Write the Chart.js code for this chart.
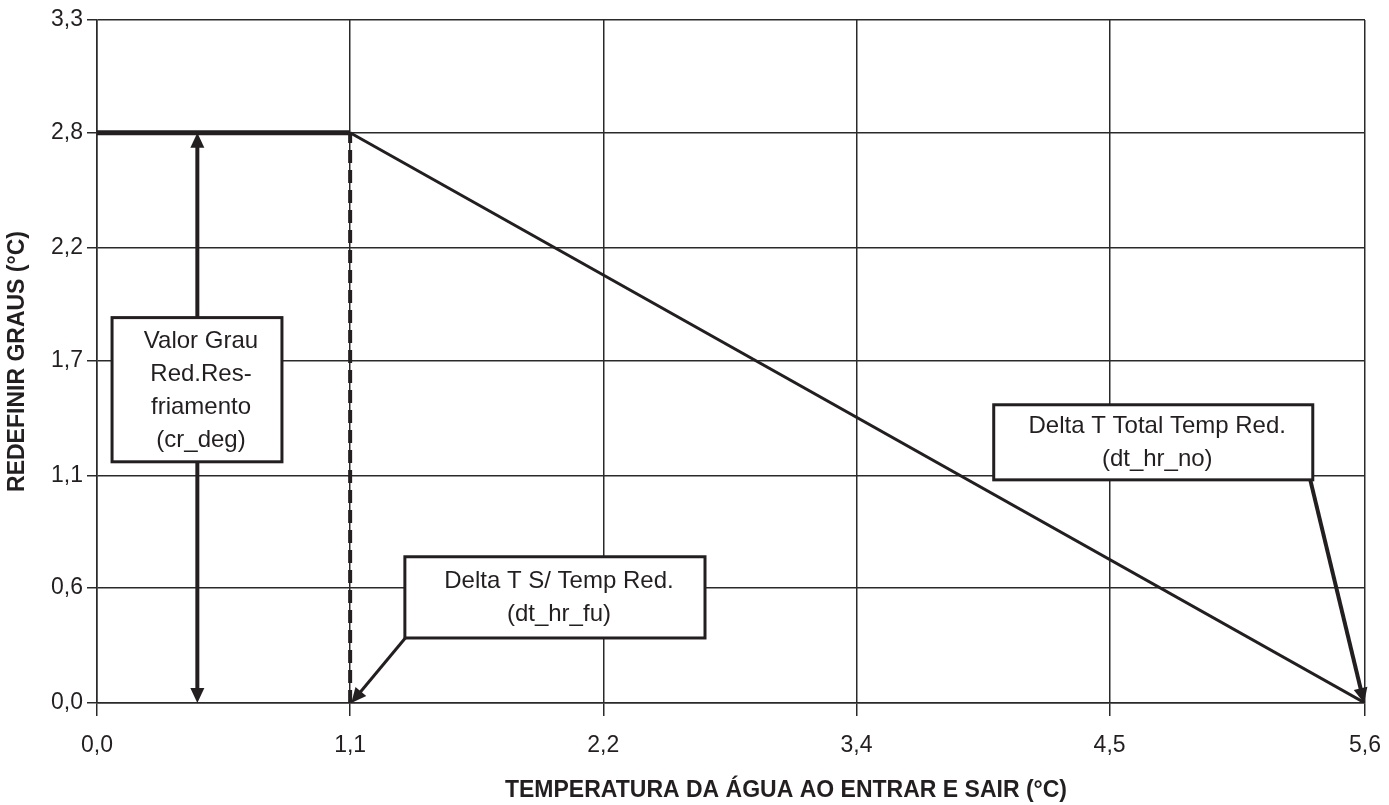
<!DOCTYPE html>
<html>
<head>
<meta charset="utf-8">
<script src="https://cdn.jsdelivr.net/npm/chart.js@4/dist/chart.umd.min.js"></script>
<style>
  html, body { margin: 0; padding: 0; background: #fff; }
  #wrap { width: 1389px; height: 805px; }
</style>
</head>
<body>
<div id="wrap"><canvas id="graf"></canvas></div>
<script>
// valores (°C)
const curvaX = [0.0, 1.11, 5.56];
const curvaY = [2.78, 2.78, 0.0];
const tracoX = [1.11, 1.11];
const tracoY = [0.0, 2.78];

const xTicks = [0, 1.11, 2.22, 3.33, 4.44, 5.56];
const xLabels = ['0,0', '1,1', '2,2', '3,4', '4,5', '5,6'];
const yTicks = [0, 0.56, 1.11, 1.67, 2.22, 2.78, 3.33];
const yLabels = ['0,0', '0,6', '1,1', '1,7', '2,2', '2,8', '3,3'];

const tituloX = 'TEMPERATURA DA ÁGUA AO ENTRAR E SAIR (°C)';
const tituloY = 'REDEFINIR GRAUS (°C)';

const preto = '#231f20';
const fonte = '"Liberation Sans", Arial, Helvetica, sans-serif';

// caixas de texto e setas (em unidades dos eixos)
const caixas = [
    { linhas: ['Valor Grau', 'Red.Res-', 'friamento', '(cr_deg)'], x0: 0.066, x1: 0.811, y0: 1.879, y1: 1.176 },
    { linhas: ['Delta T S/ Temp Red.', '(dt_hr_fu)'], x0: 1.35, x1: 2.666, y0: 0.713, y1: 0.317 },
    { linhas: ['Delta T Total Temp Red.', '(dt_hr_no)'], x0: 3.932, x1: 5.331, y0: 1.454, y1: 1.088 }
];
const setas = [
    { de: [0.44, 2.78], ate: [0.44, 0.0], duas: true, larg: 4 },
    { de: [1.352, 0.317], ate: [1.115, 0.0], duas: false, larg: 3 },
    { de: [5.32, 1.088], ate: [5.556, 0.0], duas: false, larg: 4 }
];

function ponta(ctx, x1, y1, x2, y2) {
    var ang = Math.atan2(y2 - y1, x2 - x1);
    var L = 15, W = 7;
    ctx.beginPath();
    ctx.moveTo(x2, y2);
    ctx.lineTo(x2 - L * Math.cos(ang) + W * Math.sin(ang), y2 - L * Math.sin(ang) - W * Math.cos(ang));
    ctx.lineTo(x2 - L * Math.cos(ang) - W * Math.sin(ang), y2 - L * Math.sin(ang) + W * Math.cos(ang));
    ctx.closePath();
    ctx.fill();
}

const anotacoes = {
    id: 'anotacoes',
    afterDatasetsDraw(chart) {
        const ctx = chart.ctx;
        const sx = chart.scales.x, sy = chart.scales.y;
        ctx.save();
        ctx.strokeStyle = preto;
        ctx.fillStyle = preto;
        ctx.lineCap = 'butt';

        setas.forEach(function (s) {
            var x1 = sx.getPixelForValue(s.de[0]), y1 = sy.getPixelForValue(s.de[1]);
            var x2 = sx.getPixelForValue(s.ate[0]), y2 = sy.getPixelForValue(s.ate[1]);
            var ang = Math.atan2(y2 - y1, x2 - x1);
            var a = s.duas ? 12 : 0;
            ctx.lineWidth = s.larg;
            ctx.beginPath();
            ctx.moveTo(x1 + a * Math.cos(ang), y1 + a * Math.sin(ang));
            ctx.lineTo(x2 - 12 * Math.cos(ang), y2 - 12 * Math.sin(ang));
            ctx.stroke();
            ponta(ctx, x1, y1, x2, y2);
            if (s.duas) ponta(ctx, x2, y2, x1, y1);
        });

        ctx.font = '24px ' + fonte;
        ctx.textAlign = 'center';
        ctx.textBaseline = 'middle';
        caixas.forEach(function (c) {
            var l = sx.getPixelForValue(c.x0), r = sx.getPixelForValue(c.x1);
            var t = sy.getPixelForValue(c.y0), b = sy.getPixelForValue(c.y1);
            ctx.fillStyle = '#fff';
            ctx.fillRect(l, t, r - l, b - t);
            ctx.lineWidth = 3;
            ctx.strokeStyle = preto;
            ctx.strokeRect(l, t, r - l, b - t);
            ctx.fillStyle = preto;
            var n = c.linhas.length, lh = 33;
            var cy = (t + b) / 2 - (n - 1) * lh / 2 + 1;
            c.linhas.forEach(function (txt, i) {
                ctx.fillText(txt, (l + r) / 2 + 4, cy + i * lh);
            });
        });

        // titulo do eixo x (um pouco deslocado para a direita, como no original)
        ctx.font = 'bold 23px ' + fonte;
        ctx.fillText(tituloX, (chart.chartArea.left + chart.chartArea.right) / 2 + 55, 791);
        ctx.restore();
    }
};

document.addEventListener('DOMContentLoaded', function () {
    var ctx = document.getElementById('graf').getContext('2d');

    var grafico = new Chart(ctx, {
        type: 'line',
        data: {
            datasets: [
                {
                    label: 'curva',
                    data: curvaX.map(function (x, i) { return { x: x, y: curvaY[i] }; }),
                    borderColor: preto,
                    borderWidth: 3,
                    pointRadius: 0,
                    tension: 0,
                    segment: {
                        borderWidth: function (c) { return c.p0DataIndex === 0 ? 5 : 3; }
                    }
                },
                {
                    label: 'traco',
                    data: tracoX.map(function (x, i) { return { x: x, y: tracoY[i] }; }),
                    borderColor: preto,
                    borderWidth: 4,
                    borderDash: [13, 7],
                    pointRadius: 0
                }
            ]
        },
        options: {
            responsive: true,
            maintainAspectRatio: false,
            animation: false,
            layout: { padding: { top: 20, right: 0, left: 0, bottom: 0 } },
            plugins: {
                legend: { display: false },
                tooltip: { enabled: false }
            },
            scales: {
                x: {
                    type: 'linear',
                    min: 0,
                    max: 5.56,
                    afterBuildTicks: function (s) { s.ticks = xTicks.map(function (v) { return { value: v }; }); },
                    afterFit: function (s) { s.height = 102; s.paddingRight = 24; s.paddingLeft = 0; },
                    ticks: {
                        autoSkip: false,
                        maxRotation: 0,
                        padding: 16,
                        color: preto,
                        font: { family: fonte, size: 23 },
                        callback: function (v, i) { return xLabels[i]; }
                    },
                    grid: { color: '#2a2a2a', lineWidth: 1.5, tickLength: 13 },
                    border: { color: '#2a2a2a', width: 1.5 },
                    title: { display: false }
                },
                y: {
                    type: 'linear',
                    min: 0,
                    max: 3.33,
                    afterBuildTicks: function (s) { s.ticks = yTicks.map(function (v) { return { value: v }; }); },
                    afterFit: function (s) { s.width = 97; },
                    ticks: {
                        autoSkip: false,
                        padding: 4,
                        color: preto,
                        font: { family: fonte, size: 23 },
                        callback: function (v, i) { return yLabels[i]; }
                    },
                    grid: { color: '#2a2a2a', lineWidth: 1.5, tickLength: 10 },
                    border: { color: '#2a2a2a', width: 1.5 },
                    title: {
                        display: true,
                        text: tituloY,
                        color: preto,
                        font: { family: fonte, size: 23, weight: 'bold' },
                        padding: { top: 4, bottom: 0 }
                    }
                }
            }
        },
        plugins: [anotacoes]
    });
});
</script>
</body>
</html>
